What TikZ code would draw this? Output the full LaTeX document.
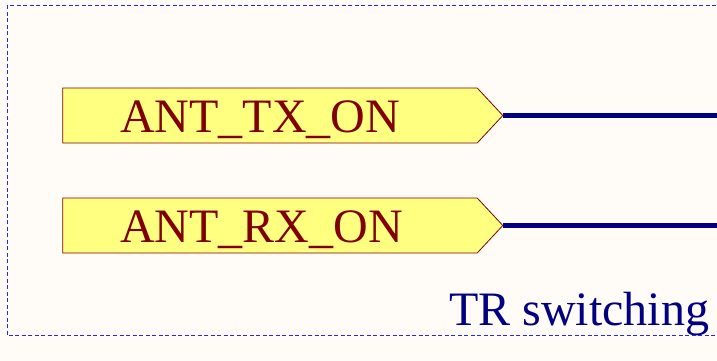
\documentclass[tikz,border=0pt]{standalone}
\usepackage{fontspec}
\setmainfont{Liberation Serif}
\usetikzlibrary{shapes.symbols}

\newlength{\du}
\setlength{\du}{1pt}

\definecolor{sheetbg}{rgb}{1.000000, 0.988000, 0.970000}
\definecolor{frameblue}{rgb}{0.150000, 0.150000, 0.950000}
\definecolor{portfill}{rgb}{1.000000, 1.000000, 0.500000}
\definecolor{portline}{rgb}{0.500000, 0.000000, 0.000000}
\definecolor{wireblue}{rgb}{0.000000, 0.000000, 0.500000}

\tikzset{
  portshape/.style={signal, signal to=east, signal pointer angle=94,
    draw=portline, fill=portfill, line width=0.8\du,
    minimum width=440\du, minimum height=55\du, inner sep=0pt},
  porttext/.style={anchor=base west, inner sep=0pt, text=portline,
    font=\fontsize{48}{50}\selectfont},
  wire/.style={draw=wireblue, line width=5.5\du},
  sheetframe/.style={draw=frameblue, line width=1.3\du, dash pattern=on 4\du off 2.5\du},
}

\begin{document}
\begin{tikzpicture}
\pgftransformxscale{1.000000}
\pgftransformyscale{-1.000000}
\fill[sheetbg] (0\du,0\du) rectangle (717\du,361\du);
\useasboundingbox (0\du,0\du) rectangle (717\du,361\du);
% ports
\node[portshape] (txport) at (270.000000\du,115.500000\du){};
\node[porttext] (txlabel) at (120.000000\du,132.000000\du){ANT\_TX\_ON};
\node[portshape] (rxport) at (270.000000\du,225.500000\du){};
\node[porttext] (rxlabel) at (120.000000\du,242.000000\du){ANT\_RX\_ON};
% wires
\coordinate (txend) at (717.000000\du,115.500000\du);
\coordinate (rxend) at (717.000000\du,225.500000\du);
\draw[wire] (txport.east)--(txend);
\draw[wire] (rxport.east)--(rxend);
% sheet title
\node[anchor=base west, inner sep=0pt, text=wireblue, font=\fontsize{48}{50}\selectfont] (title) at (449.000000\du,325.000000\du){TR switching};
% sheet frame
\coordinate (frametr) at (716.000000\du,5.500000\du);
\coordinate (frametl) at (7.500000\du,5.500000\du);
\coordinate (framebl) at (7.500000\du,335.500000\du);
\coordinate (framebr) at (716.000000\du,335.500000\du);
\draw[sheetframe] (frametr)--(frametl)--(framebl)--(framebr);
\end{tikzpicture}
\end{document}
